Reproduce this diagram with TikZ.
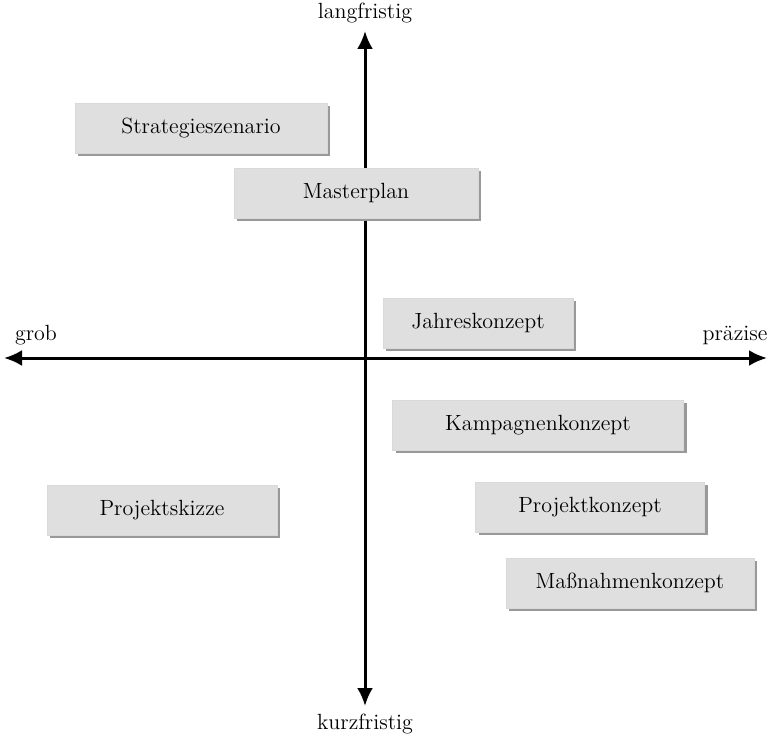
\documentclass[tikz,border=0pt]{standalone}
\usepackage{tikz}
\usetikzlibrary{shadows,arrows.meta}
\tikzstyle{konzept} = [rectangle, draw=gray!30, fill=gray!25, text centered,
    minimum height=25pt, inner sep=0pt,
    drop shadow={shadow xshift=1.6pt, shadow yshift=-1.6pt, fill=gray!80, opacity=1}]
\tikzstyle{achse} = [line width=1.5pt, {Latex[length=9pt,width=8pt]}-{Latex[length=9pt,width=8pt]}]
\tikzstyle{pol} = [inner sep=0pt]

\begin{document}
\begin{tikzpicture}[x=0.5pt, y=-0.5pt, font=\fontsize{11}{13}\selectfont]
    \useasboundingbox (0,0) rectangle (771,738);
    % Achsen
    \coordinate (oben) at (365,31);
    \coordinate (unten) at (365,706);
    \coordinate (links) at (4,358);
    \coordinate (rechts) at (767,358);
    \path[draw,achse] (unten) -- (oben);
    \path[draw,achse] (links) -- (rechts);

    \node[pol] (langfristig) at (365,13) {langfristig};
    \node[pol] (kurzfristig) at (365,724) {kurzfristig};
    \node[pol] (grob) at (36,335) {grob};
    \node[pol] (praezise) at (735,335) {präzise};

    % Konzepte
    \node[konzept, minimum width=126pt] (strategie) at (201,128) {Strategieszenario};
    \node[konzept, minimum width=122pt] (masterplan) at (356,193) {Masterplan};
    \node[konzept, minimum width=95pt] (jahr) at (478,323) {Jahreskonzept};
    \node[konzept, minimum width=145.5pt] (kampagne) at (538,425) {Kampagnenkonzept};
    \node[konzept, minimum width=115pt] (skizze) at (162,510) {Projektskizze};
    \node[konzept, minimum width=114.5pt] (projekt) at (590,507) {Projektkonzept};
    \node[konzept, minimum width=124pt] (massnahme) at (630,583) {Maßnahmenkonzept};
\end{tikzpicture}
\end{document}
